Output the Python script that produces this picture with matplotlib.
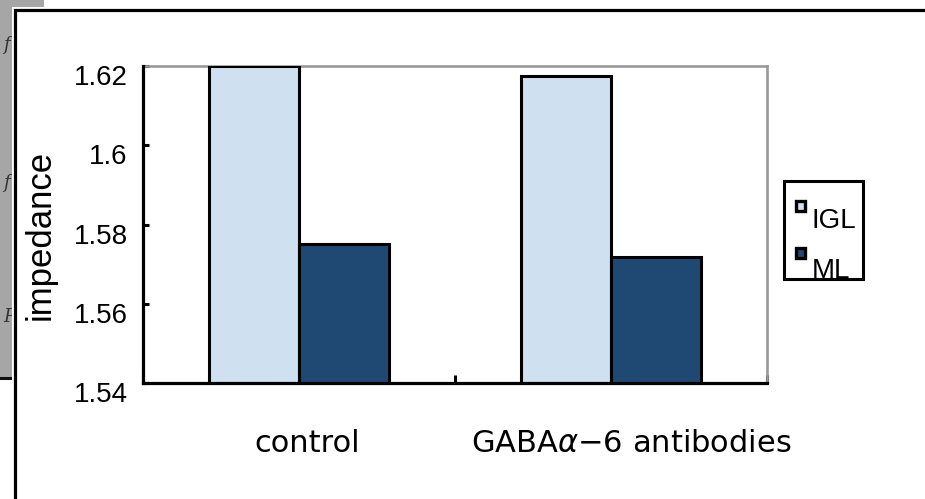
import matplotlib
matplotlib.use("Agg")
import matplotlib.pyplot as plt
from matplotlib.patches import Rectangle
from matplotlib.transforms import ScaledTranslation
from matplotlib.lines import Line2D

# ---- data ----
categories = ["control", "GABA$\\alpha$\u22126 antibodies"]
series_names = ["IGL", "ML"]
igl_values = [1.620, 1.6175]
ml_values = [1.5751, 1.5718]
y_ticks = [1.54, 1.56, 1.58, 1.60, 1.62]
y_tick_labels = ["1.54", "1.56", "1.58", "1.6", "1.62"]
y_label = "impedance"

colors = ["#CFE0F1", "#1F4973"]

W, H = 925, 499
fig = plt.figure(figsize=(W / 100, H / 100), dpi=100)
fig.patch.set_facecolor("white")


def fx(x):
    return x / W


def fy(y):
    return 1 - y / H


# gray panel peeking out behind the chart frame
fig.add_artist(Rectangle((fx(0), fy(378)), fx(44), 378 / H, transform=fig.transFigure,
                         facecolor="#a6a6a6", edgecolor="none", zorder=-3))
fig.add_artist(Line2D([fx(0), fx(12)], [fy(378), fy(378)], transform=fig.transFigure,
                      color="#111111", lw=2.2, zorder=-2.5))
for yy, ch in [(45, "f"), (183, "f"), (317, "P")]:
    fig.text(fx(3), fy(yy), ch, fontsize=13, style="italic", color="#333333",
             va="center", ha="left", zorder=-2, family="DejaVu Serif")

# chart frame
fig.add_artist(Rectangle((fx(14.5), fy(520)), fx(940), (520 - 9.5) / H, transform=fig.transFigure,
                         facecolor="white", edgecolor="white", lw=5, zorder=-1.2))
fig.add_artist(Rectangle((fx(14.5), fy(520)), fx(940), (520 - 9.5) / H, transform=fig.transFigure,
                         facecolor="white", edgecolor="black", lw=2.3, zorder=-1))

# ---- axes ----
ax = fig.add_axes([fx(143), fy(383), (767 - 143) / W, (383 - 66) / H])
ax.set_facecolor("white")

x = list(range(len(categories)))
bw = 0.288
ax.bar([i - bw / 2 for i in x], igl_values, bw, color=colors[0], edgecolor="black",
       linewidth=2.2, bottom=0, zorder=3)
ax.bar([i + bw / 2 for i in x], ml_values, bw, color=colors[1], edgecolor="black",
       linewidth=2.2, bottom=0, zorder=3)

ax.set_xlim(-0.5, len(categories) - 0.5)
ax.set_ylim(y_ticks[0], y_ticks[-1])

for s in ["left", "bottom"]:
    ax.spines[s].set_color("black")
    ax.spines[s].set_linewidth(2.3)
    ax.spines[s].set_zorder(5)
for s in ["top", "right"]:
    ax.spines[s].set_color("#999999")
    ax.spines[s].set_linewidth(1.9)

ax.set_yticks(y_ticks)
ax.set_yticklabels(y_tick_labels, fontsize=20, family="Liberation Sans")
ax.tick_params(axis="y", direction="in", length=4.5, width=2.2, pad=11)

ax.set_xticks([-0.5, 0.5, 1.5])
ax.set_xticklabels(["", "", ""])
ax.set_xticks(x, minor=True)
ax.set_xticklabels(categories, minor=True, fontsize=22, family="DejaVu Sans")
ax.tick_params(axis="x", which="major", direction="in", length=6, width=2.2)
ax.tick_params(axis="x", which="minor", length=0, pad=33)

# y tick labels sit a little below their ticks
offset = ScaledTranslation(0, -9 / 100, fig.dpi_scale_trans)
for lab in ax.get_yticklabels():
    lab.set_transform(lab.get_transform() + offset)

# category labels sit slightly right of the group centres
for lab, dx in zip(ax.get_xticklabels(minor=True), [8, 20]):
    lab.set_transform(lab.get_transform() + ScaledTranslation(dx / 100, 0, fig.dpi_scale_trans))

ax.set_ylabel(y_label, fontsize=25, family="Liberation Sans")
ax.yaxis.set_label_coords(-0.138, 0.467)

# ---- legend ----
fig.add_artist(Rectangle((fx(783.5), fy(278.5)), (863 - 783.5) / W, (278.5 - 180.5) / H,
                         transform=fig.transFigure, facecolor="white", edgecolor="black",
                         lw=2.2, zorder=4))
for name, col, my, ty in [(series_names[0], colors[0], 206, 228),
                          (series_names[1], colors[1], 253, 278)]:
    fig.add_artist(Rectangle((fx(796), fy(my + 5)), 9 / W, 10 / H, transform=fig.transFigure,
                             facecolor=col, edgecolor="black", lw=2.4, zorder=5))
    fig.text(fx(812), fy(ty), name, fontsize=20, family="Liberation Sans",
             va="baseline", ha="left", zorder=5)

fig.savefig("out.png", dpi=100)
